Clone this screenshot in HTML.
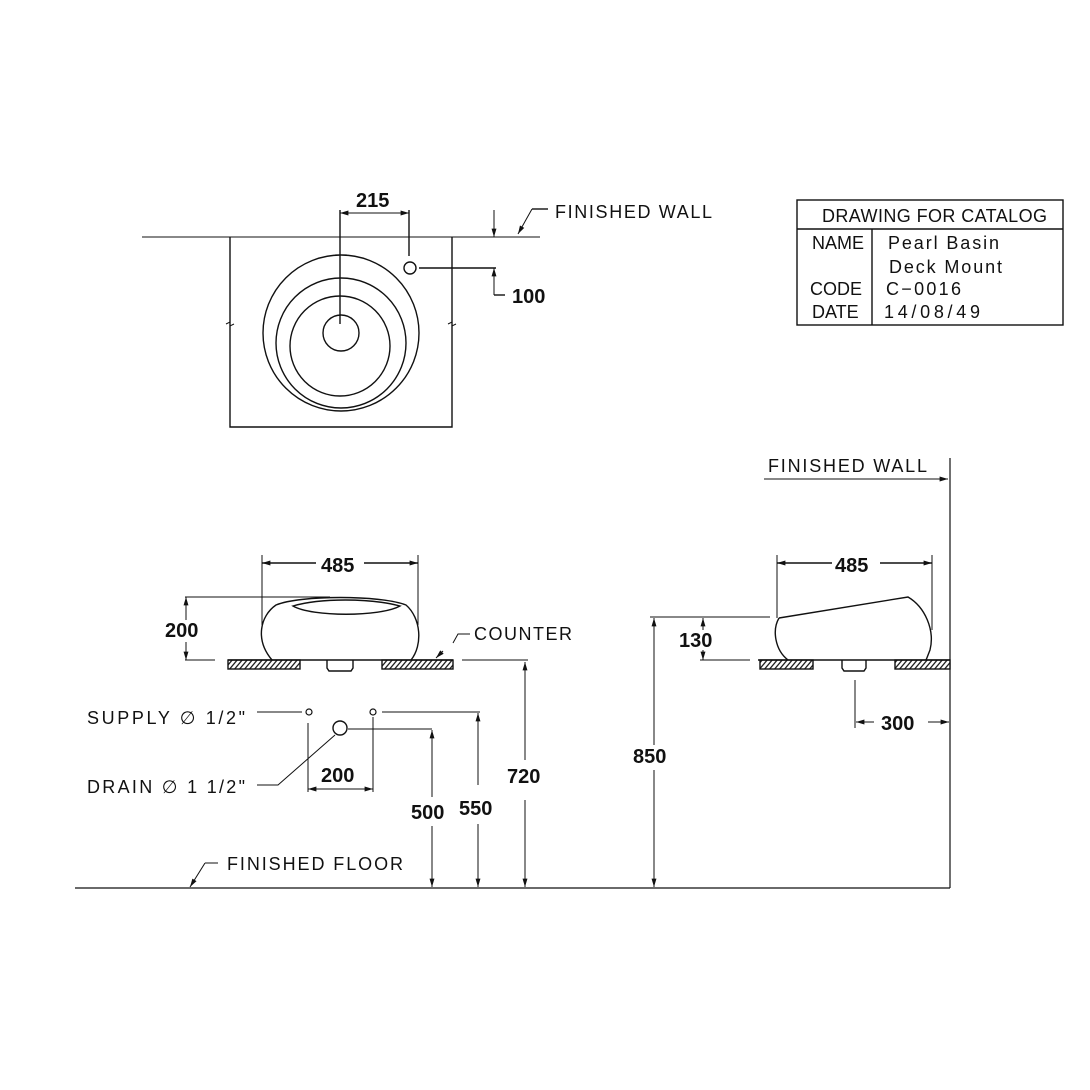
<!DOCTYPE html>
<html><head><meta charset="utf-8"><style>
html,body{margin:0;padding:0;background:#fff;}
svg{display:block;}
text{font-family:"Liberation Sans",sans-serif;fill:#111;}
.t{font-size:18px;}
.d{font-size:20px;font-weight:bold;}
</style></head><body>
<svg width="1090" height="1090" viewBox="0 0 1090 1090" xmlns="http://www.w3.org/2000/svg">
<defs>
<marker id="a" viewBox="0 0 12 10" refX="12" refY="5" markerWidth="12" markerHeight="7" orient="auto-start-reverse" markerUnits="userSpaceOnUse"><path d="M0,1.5 L12,5 L0,8.5 z" fill="#111"/></marker>
<pattern id="h" width="5" height="8" patternUnits="userSpaceOnUse" patternTransform="skewX(-40)"><rect width="5" height="8" fill="#fff"/><line x1="1" y1="0" x2="1" y2="8" stroke="#111" stroke-width="1.6"/></pattern>
</defs>
<g stroke="#111" stroke-width="1.4" fill="none">
<!-- TOP VIEW -->
<line x1="142" y1="237" x2="540" y2="237" stroke-width="1"/>
<polyline points="230,237 230,427 452,427 452,237"/>
<path d="M226,324 l4,-2 l0,4 l4,-2" stroke-width="1"/>
<path d="M448,324 l4,-2 l0,4 l4,-2" stroke-width="1"/>
<circle cx="341" cy="333" r="78"/>
<circle cx="341" cy="343" r="65"/>
<circle cx="340" cy="346" r="50"/>
<circle cx="341" cy="333" r="18"/>
<line x1="340" y1="210" x2="340" y2="324"/>
<line x1="409" y1="210" x2="409" y2="256"/>
<line x1="340" y1="213" x2="409" y2="213" marker-start="url(#a)" marker-end="url(#a)" stroke-width="1"/>
<circle cx="410" cy="268" r="6"/>
<line x1="419" y1="268" x2="496" y2="268"/>
<line x1="494" y1="210" x2="494" y2="237" marker-end="url(#a)" stroke-width="1"/>
<line x1="494" y1="295" x2="494" y2="268" marker-end="url(#a)" stroke-width="1"/>
<polyline points="494,295 505,295" />
<line x1="532" y1="209" x2="518" y2="234" marker-end="url(#a)" stroke-width="1"/>
<line x1="532" y1="209" x2="548" y2="209"/>
<!-- TITLE BLOCK -->
<rect x="797" y="200" width="266" height="125"/>
<line x1="797" y1="229" x2="1063" y2="229"/>
<line x1="872" y1="229" x2="872" y2="325"/>
<!-- FRONT VIEW -->
<line x1="262" y1="555" x2="262" y2="625" stroke-width="1"/>
<line x1="418" y1="555" x2="418" y2="625" stroke-width="1"/>
<line x1="262" y1="563" x2="316" y2="563" marker-start="url(#a)"/>
<line x1="364" y1="563" x2="418" y2="563" marker-end="url(#a)"/>
<line x1="185" y1="597" x2="330" y2="597" stroke-width="1"/>
<line x1="185" y1="660" x2="215" y2="660" stroke-width="1"/>
<line x1="186" y1="620" x2="186" y2="597" marker-end="url(#a)" stroke-width="1"/>
<line x1="186" y1="642" x2="186" y2="660" marker-end="url(#a)" stroke-width="1"/>
<path d="M272,660 C255,640 260,616 276,605 C300,595 380,595 406,605 C421,618 423,645 411,660"/>
<path d="M293,606 C320,598 370,598 400,606 C380,617 312,617 293,606 z"/>
<rect x="228" y="660" width="72" height="9" fill="url(#h)"/>
<rect x="382" y="660" width="71" height="9" fill="url(#h)"/>
<line x1="228" y1="660" x2="453" y2="660"/>
<path d="M327,660 v8 l2,3 h22 l2,-3 v-8"/>
<line x1="462" y1="660" x2="528" y2="660" stroke-width="1"/>
<line x1="443" y1="651" x2="436" y2="658" marker-end="url(#a)" stroke-width="1"/>
<polyline points="453,643 458,634 470,634" stroke-width="1"/>
<line x1="525" y1="760" x2="525" y2="662" marker-end="url(#a)" stroke-width="1"/>
<line x1="525" y1="800" x2="525" y2="887" marker-end="url(#a)" stroke-width="1"/>
<!-- supply / drain -->
<line x1="257" y1="712" x2="302" y2="712" stroke-width="1"/>
<circle cx="309" cy="712" r="3" stroke-width="1.2"/>
<circle cx="373" cy="712" r="3" stroke-width="1.2"/>
<line x1="382" y1="712" x2="480" y2="712" stroke-width="1"/>
<circle cx="340" cy="728" r="7"/>
<line x1="348" y1="729" x2="432" y2="729" stroke-width="1"/>
<polyline points="335,735 278,785 257,785" stroke-width="1"/>
<line x1="308" y1="723" x2="308" y2="792" stroke-width="1"/>
<line x1="373" y1="717" x2="373" y2="792" stroke-width="1"/>
<line x1="308" y1="789" x2="373" y2="789" marker-start="url(#a)" marker-end="url(#a)" stroke-width="1"/>
<line x1="432" y1="797" x2="432" y2="730" marker-end="url(#a)" stroke-width="1"/>
<line x1="432" y1="826" x2="432" y2="887" marker-end="url(#a)" stroke-width="1"/>
<line x1="478" y1="785" x2="478" y2="713" marker-end="url(#a)" stroke-width="1"/>
<line x1="478" y1="824" x2="478" y2="887" marker-end="url(#a)" stroke-width="1"/>
<line x1="430" y1="888" x2="480" y2="888" stroke-width="1"/>
<!-- floor -->
<line x1="75" y1="888" x2="950" y2="888" stroke-width="1.2"/>
<line x1="205" y1="863" x2="190" y2="887" marker-end="url(#a)" stroke-width="1"/>
<line x1="205" y1="863" x2="218" y2="863" stroke-width="1"/>
<!-- SIDE VIEW -->
<line x1="950" y1="458" x2="950" y2="888" stroke-width="1.2"/>
<line x1="764" y1="479" x2="948" y2="479" marker-end="url(#a)" stroke-width="1"/>
<line x1="650" y1="617" x2="770" y2="617" stroke-width="1"/>
<line x1="654" y1="745" x2="654" y2="618" marker-end="url(#a)" stroke-width="1"/>
<line x1="654" y1="770" x2="654" y2="887" marker-end="url(#a)" stroke-width="1"/>
<line x1="700" y1="660" x2="750" y2="660" stroke-width="1"/>
<line x1="703" y1="630" x2="703" y2="618" marker-end="url(#a)" stroke-width="1"/>
<line x1="703" y1="650" x2="703" y2="660" marker-end="url(#a)" stroke-width="1"/>
<line x1="777" y1="555" x2="777" y2="618" stroke-width="1"/>
<line x1="932" y1="555" x2="932" y2="630" stroke-width="1"/>
<line x1="777" y1="563" x2="832" y2="563" marker-start="url(#a)"/>
<line x1="880" y1="563" x2="932" y2="563" marker-end="url(#a)"/>
<path d="M779,618 C772,630 775,650 788,660"/>
<path d="M779,618 L908,597 C925,607 935,630 930,650 C928,655 927,658 926,660"/>
<rect x="760" y="660" width="53" height="9" fill="url(#h)"/>
<rect x="895" y="660" width="55" height="9" fill="url(#h)"/>
<line x1="758" y1="660" x2="950" y2="660"/>
<path d="M842,660 v8 l2,3 h20 l2,-3 v-8"/>
<line x1="855" y1="680" x2="855" y2="728" stroke-width="1"/>
<line x1="874" y1="722" x2="856" y2="722" marker-end="url(#a)" stroke-width="1"/>
<line x1="928" y1="722" x2="949" y2="722" marker-end="url(#a)" stroke-width="1"/>
</g>
<!-- TEXT -->
<text class="d" x="356" y="207">215</text>
<text class="d" x="512" y="303">100</text>
<text class="t" x="555" y="218" textLength="157">FINISHED  WALL</text>
<text class="t" x="822" y="222" textLength="225">DRAWING  FOR  CATALOG</text>
<text class="t" x="812" y="249">NAME</text>
<text class="t" x="888" y="249" textLength="111">Pearl  Basin</text>
<text class="t" x="889" y="273" textLength="113">Deck  Mount</text>
<text class="t" x="810" y="295">CODE</text>
<text class="t" x="886" y="295" textLength="75">C−0016</text>
<text class="t" x="812" y="318">DATE</text>
<text class="t" x="884" y="318" textLength="96">14/08/49</text>
<text class="d" x="321" y="572">485</text>
<text class="d" x="165" y="637">200</text>
<text class="t" x="474" y="640" textLength="98">COUNTER</text>
<text class="t" x="87" y="724" textLength="158">SUPPLY ∅ 1/2"</text>
<text class="t" x="87" y="793" textLength="158">DRAIN ∅ 1 1/2"</text>
<text class="d" x="321" y="782">200</text>
<text class="d" x="411" y="819">500</text>
<text class="d" x="459" y="815">550</text>
<text class="d" x="507" y="783">720</text>
<text class="t" x="227" y="870" textLength="176">FINISHED  FLOOR</text>
<text class="t" x="768" y="472" textLength="159">FINISHED  WALL</text>
<text class="d" x="835" y="572">485</text>
<text class="d" x="679" y="647">130</text>
<text class="d" x="633" y="763">850</text>
<text class="d" x="881" y="730">300</text>
</svg>
</body></html>
